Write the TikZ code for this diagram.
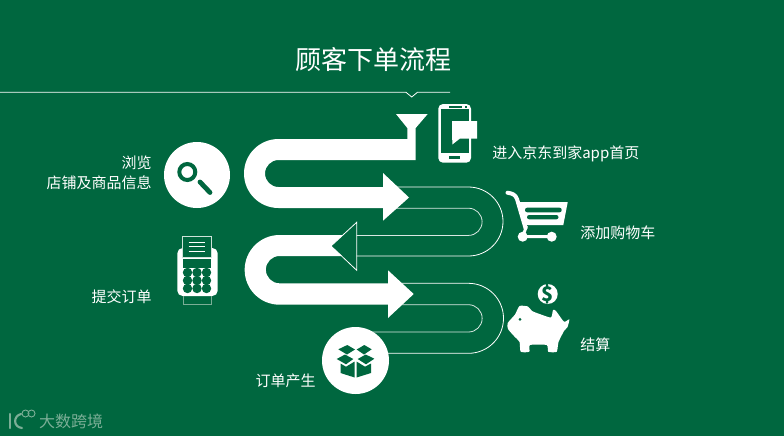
\documentclass[tikz,border=0pt]{standalone}
\usepackage{xcolor}
\usepackage{fontspec}
\setmainfont{Noto Sans CJK SC}
\usepackage{tikz}
\usetikzlibrary{arrows.meta,positioning,calc}
\definecolor{leaf}{HTML}{00673F}
\definecolor{faded}{HTML}{7BAE96}
\definecolor{pale}{HTML}{CFE3D9}

\begin{document}
\begin{tikzpicture}[
  x=0.75pt, y=-0.75pt,
  label/.style={text=white, font=\fontsize{11.25pt}{15pt}\selectfont, inner sep=0pt, align=right},
  badge/.style={circle, fill=white, inner sep=0pt, minimum size=#1*0.75pt},
  ribbon/.style={fill=white, draw=none},
  trail/.style={draw=white, line width=0.6pt},
  cut/.style={fill=leaf, draw=none}
]
  \fill[leaf] (0,0) rectangle (784,436);
  \useasboundingbox (0,0) rectangle (784,436);

  \node[text=white, font=\fontsize{19.5pt}{24pt}\selectfont, inner sep=0pt] (title) at (373,60) {顾客下单流程};
  \draw[trail] (0,92.3) -- (406,92.3) -- (411.7,97) -- (417.4,92.3) -- (450,92.3);

  \draw[trail] (396,187) -- (468.5,187) arc[start angle=270, end angle=450, radius=34.5] -- (356.7,256);
  \draw[trail, draw=white!85!leaf] (396,208.2) -- (468.5,208.2) arc[start angle=270, end angle=450, radius=13.6] -- (356.7,235.4);
  \draw[trail] (401,283.3) -- (468.5,283.3) arc[start angle=270, end angle=450, radius=35] -- (380,353.3);
  \draw[trail, draw=white!85!leaf] (401,304.7) -- (468.5,304.7) arc[start angle=270, end angle=450, radius=13.65] -- (370,332);

  \fill[ribbon] (396,114) -- (427.7,114) -- (415.7,128) -- (415.7,160) -- (278.5,160)
    arc[start angle=270, end angle=90, radius=13.5] -- (383,187) -- (383,173) -- (409,197.5) -- (383,220.7) -- (383,208) -- (278.5,208)
    arc[start angle=90, end angle=270, radius=34.5] -- (407.3,139) -- (407.3,128) -- cycle;
  \draw[trail] (356.7,222.3) -- (356.7,270.3) -- (331,246) -- cycle;
  \fill[ribbon] (343,235) -- (279.5,235) arc[start angle=270, end angle=90, radius=34.85] -- (388,304.7) -- (388,318) -- (413.7,294) -- (388,270.3) -- (388,283.3) -- (279.5,283.3)
    arc[start angle=90, end angle=270, radius=13.65] -- (342,256) -- (331,246) -- cycle;

  \node[badge=66] (search) at (197,175) {};
  \draw[leaf, line width=3pt] (187.3,172) circle[radius=8];
  \draw[leaf, line width=3.6pt, line cap=round] (200,182) -- (210,192.5);

  \node[badge=67] (parcel) at (355.5,360.5) {};
  \fill[cut] (338.3,349.3) -- (347.3,345) -- (355,349.5) -- (347,354.5) -- cycle;
  \fill[cut] (356.7,349.5) -- (364.3,345) -- (371.7,349.3) -- (364,354.5) -- cycle;
  \fill[cut] (336.7,359) -- (345,354.5) -- (353.3,359) -- (346,364.3) -- cycle;
  \fill[cut] (357.7,359) -- (365.7,354.5) -- (374.3,358.7) -- (366,364.3) -- cycle;
  \fill[cut] (340.5,363.5) -- (346,366.7) -- (354.7,361.5) -- (354.7,377.5) -- (340.5,373) -- cycle;
  \fill[cut] (356.5,361.5) -- (365,366.7) -- (371,363.5) -- (371,373) -- (356.5,377.5) -- cycle;

  \fill[white, rounded corners=3.5pt] (438.3,104) rectangle (471,162.7);
  \fill[cut] (441,109.3) rectangle (468.7,153.3);
  \fill[cut] (449,106) rectangle (462,107.5);
  \fill[cut] (464.5,106) rectangle (466.5,107.5);
  \fill[cut] (449,155.8) rectangle (460,158.5);
  \fill[white] (452,121) -- (477,121) -- (477,138.5) -- (460,138.5) -- (452.3,144.5) -- cycle;

  \draw[white, line width=3pt, line cap=round, line join=round] (507.5,192.7) .. controls (513,193.5) and (515.5,195) .. (517,199) -- (525.5,228);
  \fill[white] (518.3,202.2) -- (567.7,202.2) -- (563.3,225) -- (524.5,225) -- cycle;
  \fill[cut, rounded corners=1.6pt] (525,207.7) rectangle (561.7,212.3);
  \fill[cut, rounded corners=1.6pt] (527,215) rectangle (558.5,219.3);
  \draw[white, line width=2.2pt] (526.5,226) -- (522.7,236.7) -- (551.7,236.7);
  \fill[white] (522.7,236.7) circle[radius=5];
  \fill[white] (551.7,236.7) circle[radius=5];

  \node[badge=20] (coin) at (547.7,294) {};
  \node[text=leaf, inner sep=0pt, font=\fontsize{15pt}{15pt}\selectfont\bfseries] (dollar) at (coin) {\$};
  \fill[white] plot[smooth cycle, tension=0.35] coordinates {(507.7,323) (515,314.5) (519.5,306) (528,306.5) (532,311) (541,314.5) (551,317.5) (553,310) (556,311) (564,321.7) (569.3,319.3) (567.5,327) (564,331) (558.5,342) (556.7,351.7) (548.3,351.7) (546.7,345) (530,345) (529.3,351.7) (520.7,351.7) (519.5,342) (514,336) (508,329)};
  \fill[cut] (520,319.3) circle[radius=1.5];

  \fill[white, rounded corners=4pt] (177.3,248) rectangle (217.7,296);
  \draw[pale, line width=0.5pt, fill=leaf] (182.7,236.7) rectangle (211,257.7);
  \draw[white, line width=0.7pt] (188.7,242.3) -- (205,242.3);
  \draw[white, line width=0.7pt] (188.7,246.7) -- (205,246.7);
  \draw[white, line width=0.7pt] (188.7,251) -- (205,251);
  \fill[cut] (182.7,259) rectangle (211,267.5);
  \foreach \keyrow in {272.5,280.5,288.5} {
    \foreach \keycol in {187.5,197,206.5} {
      \fill[cut] (\keycol,\keyrow) circle[radius=4.7];
    }
  }
  \draw[faded, line width=0.5pt] (183,296) -- (183,304.5) -- (211,304.5) -- (211,296);

  \node[label, anchor=west] (enter) at (492,153.5) {进入京东到家app首页};
  \node[label, anchor=west] (cart) at (580,232.5) {添加购物车};
  \node[label, anchor=west] (pay) at (580,344.5) {结算};
  \node[label, anchor=east] (browse) at (152,173) {浏览\\店铺及商品信息};
  \node[label, anchor=east] (submit) at (152,297) {提交订单};
  \node[label, anchor=east] (placed) at (316,381) {订单产生};

  \draw[faded, line width=1.6pt, line cap=round] (10,414) -- (10,428);
  \draw[faded, line width=1.6pt, line cap=round] (21,414) .. controls (13,416) and (13,427) .. (22,428);
  \draw[faded, line width=0.7pt] (25.5,413.5) circle[radius=3.5];
  \draw[faded, line width=0.7pt] (31.5,413.5) circle[radius=3.5];
  \node[text=faded, inner sep=0pt, font=\fontsize{12pt}{14pt}\selectfont] (brand) at (71,421.5) {大数跨境};
\end{tikzpicture}
\end{document}
